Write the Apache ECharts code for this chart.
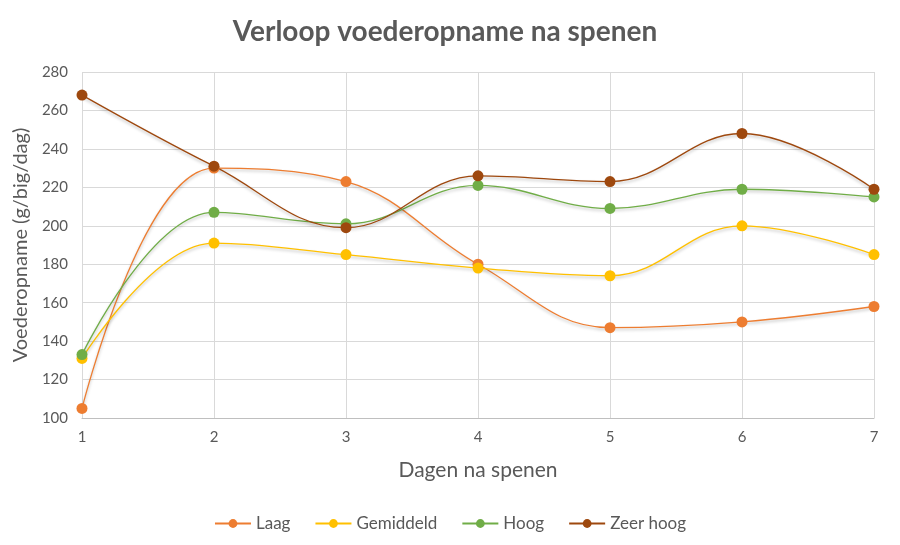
<!DOCTYPE html>
<html>
<head>
<meta charset="utf-8">
<script src="https://cdn.jsdelivr.net/npm/echarts@6/dist/echarts.min.js"></script>
<style>
  html, body { margin: 0; padding: 0; background: #fff; }
  #main { width: 900px; height: 545px; }
</style>
</head>
<body>
<div id="main"></div>
<script>
// dagen na spenen
var dagen = ['1', '2', '3', '4', '5', '6', '7'];

// voederopname (g/big/dag) per groep
var laag = [105, 230, 223, 180, 147, 150, 158];
var gemiddeld = [131, 191, 185, 178, 174, 200, 185];
var hoog = [133, 207, 201, 221, 209, 219, 215];
var zeerHoog = [268, 231, 199, 226, 223, 248, 219];

var namen = ['Laag', 'Gemiddeld', 'Hoog', 'Zeer hoog'];
var kleuren = ['#ED7D31', '#FFC000', '#70AD47', '#9E480E'];

var fontFam = 'Lato, "Open Sans", sans-serif';
var grijs = '#595959';

function maakSerie(naam, data, kleur) {
    return {
        name: naam,
        type: 'line',
        data: data,
        smooth: 0.4,
        symbol: 'circle',
        symbolSize: 11,
        itemStyle: { color: kleur },
        lineStyle: {
            color: kleur,
            width: 1.3,
            shadowBlur: 3,
            shadowColor: 'rgba(0,0,0,0.25)',
            shadowOffsetY: 2
        }
    };
}

var myChart = echarts.init(document.getElementById('main'));
var option = {
    animation: false,
    backgroundColor: '#fff',
    title: {
        text: 'Verloop voederopname na spenen',
        left: 440,
        textAlign: 'center',
        top: 13,
        textStyle: { fontFamily: fontFam, fontSize: 28, fontWeight: 'bold', color: grijs }
    },
    legend: {
        data: namen,
        bottom: 8,
        left: 'center',
        itemWidth: 36,
        itemHeight: 11,
        itemGap: 24,
        textStyle: { fontFamily: fontFam, fontSize: 17, color: grijs }
    },
    grid: { left: 82, right: 26, top: 72, bottom: 127 },
    xAxis: {
        type: 'category',
        data: dagen,
        boundaryGap: false,
        name: 'Dagen na spenen',
        nameLocation: 'middle',
        nameGap: 42,
        nameTextStyle: { fontFamily: fontFam, fontSize: 21, color: grijs },
        axisLine: { lineStyle: { color: '#bfbfbf' } },
        axisTick: { show: false },
        axisLabel: { fontFamily: fontFam, fontSize: 15, color: grijs, margin: 12 },
        splitLine: { show: true, lineStyle: { color: '#d9d9d9' } }
    },
    yAxis: {
        type: 'value',
        min: 100,
        max: 280,
        interval: 20,
        name: 'Voederopname (g/big/dag)',
        nameLocation: 'middle',
        nameGap: 51,
        nameTextStyle: { fontFamily: fontFam, fontSize: 20, color: grijs },
        axisLine: { show: false },
        axisTick: { show: false },
        axisLabel: { fontFamily: fontFam, fontSize: 15, color: grijs, margin: 14 },
        splitLine: { lineStyle: { color: '#d9d9d9' } }
    },
    series: [
        maakSerie(namen[0], laag, kleuren[0]),
        maakSerie(namen[1], gemiddeld, kleuren[1]),
        maakSerie(namen[2], hoog, kleuren[2]),
        maakSerie(namen[3], zeerHoog, kleuren[3])
    ]
};
myChart.setOption(option);
</script>
</body>
</html>
